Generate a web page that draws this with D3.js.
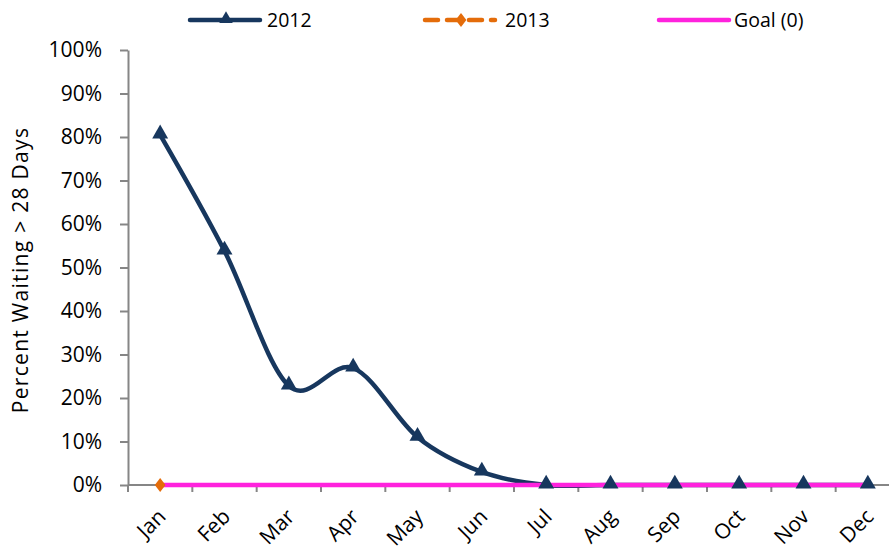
<!DOCTYPE html>
<html>
<head>
<meta charset="utf-8">
<script src="https://cdn.jsdelivr.net/npm/d3@7"></script>
<style>
  html, body { margin: 0; padding: 0; background: #fff; }
  svg { display: block; font-family: "Open Sans", sans-serif; }
</style>
</head>
<body>
<svg id="chart" width="889" height="550"></svg>
<script>
// Monthly share of patients waiting more than 28 days
const months = ["Jan","Feb","Mar","Apr","May","Jun","Jul","Aug","Sep","Oct","Nov","Dec"];
const values2012 = [0.805, 0.538, 0.228, 0.269, 0.110, 0.030, 0, 0, 0, 0, 0, 0];
const values2013 = [0];
const goalValues = [0, 0, 0, 0, 0, 0, 0, 0, 0, 0, 0, 0];
const yTicks = [0, 0.1, 0.2, 0.3, 0.4, 0.5, 0.6, 0.7, 0.8, 0.9, 1.0];
const seriesNames = ["2012", "2013", "Goal (0)"];

const colors = { s2012: "#17375E", s2013: "#E46C0A", goal: "#FF22DD", axis: "#868686" };
const axisFont = 21;
const legendFont = 19.5;

const svg = d3.select("#chart");
const plotLeft = 128, plotRight = 900, plotTop = 50, plotBottom = 485;

const x = d3.scaleBand().domain(months).range([plotLeft, plotRight]);
const y = d3.scaleLinear().domain([0, 1]).range([plotBottom, plotTop]);
const cx = m => x(m) + x.bandwidth() / 2;

// Y axis
const yAxis = svg.append("g").attr("transform", `translate(${plotLeft},0)`)
  .call(d3.axisLeft(y).tickValues(yTicks).tickFormat(d3.format(".0%")).tickSize(8).tickSizeOuter(0).tickPadding(18));
yAxis.select(".domain").attr("stroke", colors.axis).attr("stroke-width", 2);
yAxis.selectAll(".tick line").attr("stroke", colors.axis).attr("stroke-width", 2);
yAxis.selectAll(".tick text").attr("font-size", axisFont).attr("fill", "#000")
  .attr("font-family", "'Open Sans', sans-serif");

// X axis: ticks sit on category boundaries
const boundaries = months.map(m => x(m));
const xg = svg.append("g");
xg.append("line").attr("x1", plotLeft).attr("x2", 889).attr("y1", plotBottom).attr("y2", plotBottom)
  .attr("stroke", colors.axis).attr("stroke-width", 2);
xg.selectAll("line.tk").data(boundaries).join("line").attr("class", "tk")
  .attr("x1", d => d).attr("x2", d => d).attr("y1", plotBottom).attr("y2", plotBottom + 7)
  .attr("stroke", colors.axis).attr("stroke-width", 2);
xg.selectAll("text").data(months).join("text")
  .attr("transform", d => `translate(${cx(d) + 7},${plotBottom + 33}) rotate(-45)`)
  .attr("text-anchor", "end").attr("font-size", axisFont).attr("fill", "#000")
  .text(d => d);

// Y axis title
svg.append("text")
  .attr("transform", `translate(28,270) rotate(-90)`)
  .attr("text-anchor", "middle").attr("font-size", axisFont).attr("letter-spacing", 1.3)
  .attr("fill", "#000")
  .text("Percent Waiting > 28 Days");

// 2012 smoothed line
const line = d3.line().x((d, i) => cx(months[i])).y(d => y(d)).curve(d3.curveCatmullRom.alpha(0));
svg.append("path").datum(values2012).attr("d", line)
  .attr("fill", "none").attr("stroke", colors.s2012).attr("stroke-width", 4.5)
  .attr("stroke-linejoin", "round").attr("stroke-linecap", "round");

// Goal line
const goalLine = d3.line().x((d, i) => cx(months[i])).y(d => y(d));
svg.append("path").datum(goalValues).attr("d", goalLine)
  .attr("fill", "none").attr("stroke", colors.goal).attr("stroke-width", 4.5);

// Markers: triangles for 2012, diamonds (rotated squares) for 2013
const tri = d3.symbol().type(d3.symbolTriangle).size(110);
const sq = d3.symbol().type(d3.symbolSquare).size(95);
const diamondTransform = (px, py) => `translate(${px},${py}) scale(0.78,1) rotate(45)`;
svg.selectAll("path.m2012").data(values2012).join("path").attr("class", "m2012")
  .attr("d", tri).attr("fill", colors.s2012)
  .attr("transform", (d, i) => `translate(${cx(months[i])},${y(d) - 1})`);
svg.selectAll("path.m2013").data(values2013).join("path").attr("class", "m2013")
  .attr("d", sq).attr("fill", colors.s2013)
  .attr("transform", (d, i) => diamondTransform(cx(months[i]), y(d)));

// Legend
const legend = svg.append("g");
const legendItems = [
  { name: seriesNames[0], x: 190, textX: 267, color: colors.s2012, dash: null, marker: "tri" },
  { name: seriesNames[1], x: 425, textX: 505, color: colors.s2013, dash: "13,9", marker: "dia" },
  { name: seriesNames[2], x: 659, textX: 734, color: colors.goal, dash: null, marker: null }
];
const ly = 20;
legendItems.forEach(it => {
  legend.append("line").attr("x1", it.x).attr("x2", it.x + 70).attr("y1", ly).attr("y2", ly)
    .attr("stroke", it.color).attr("stroke-width", 4.5).attr("stroke-linecap", "round")
    .attr("stroke-dasharray", it.dash);
  if (it.marker === "tri") {
    legend.append("path").attr("d", tri).attr("fill", it.color)
      .attr("transform", `translate(${it.x + 36},${ly - 1}) scale(0.85)`);
  } else if (it.marker === "dia") {
    legend.append("path").attr("d", sq).attr("fill", it.color)
      .attr("transform", diamondTransform(it.x + 36, ly));
  }
  legend.append("text").attr("x", it.textX).attr("y", ly).attr("dy", "0.35em")
    .attr("font-size", legendFont).attr("fill", "#000").text(it.name);
});
</script>
</body>
</html>
